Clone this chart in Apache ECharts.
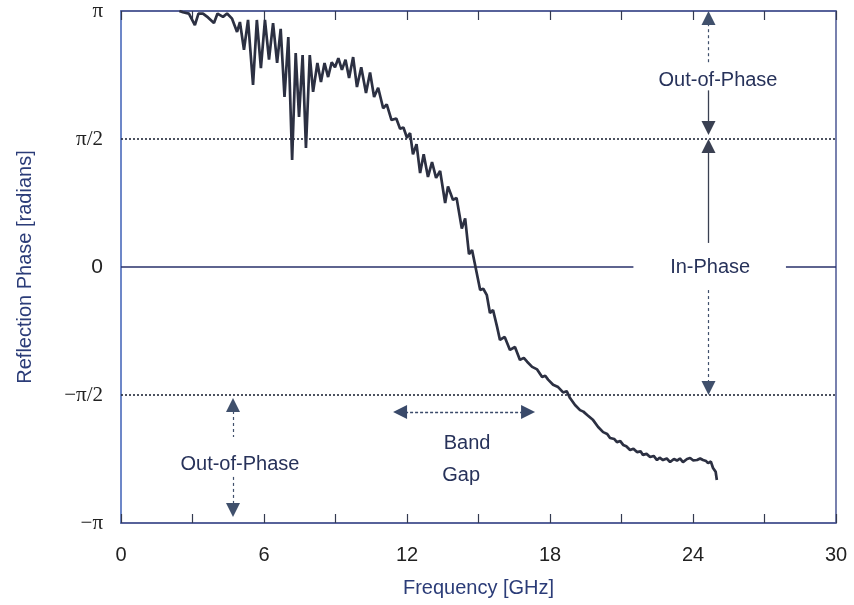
<!DOCTYPE html>
<html>
<head>
<meta charset="utf-8">
<script src="https://cdn.jsdelivr.net/npm/echarts@6/dist/echarts.min.js"></script>
<style>html,body{margin:0;padding:0;background:#fff}#c{width:854px;height:605px}</style>
</head>
<body>
<div id="c"></div>
<script>
// Frequency in GHz
const freqGHz = [
2.45,2.6,2.85,3.1,3.25,3.44,3.65,3.9,4.05,4.28,4.45,4.66,4.87,4.99,5.16,5.33,5.54,5.7,5.87,6.04,
6.21,6.38,6.55,6.70,6.86,7.02,7.18,7.33,7.47,7.62,7.76,7.92,8.06,8.24,8.39,8.54,8.69,8.84,8.98,9.12,
9.27,9.42,9.57,9.74,9.9,10.08,10.28,10.45,10.62,10.79,11.0,11.15,11.35,11.55,11.71,11.85,12.0,12.13,12.25,12.4,
12.55,12.7,12.88,13.05,13.22,13.39,13.6,13.72,13.93,14.08,14.3,14.44,14.6,14.73,14.9,15.07,15.2,15.35,15.48,15.61,
15.78,15.9,16.1,16.32,16.53,16.74,16.9,17.04,17.25,17.46,17.67,17.8,17.92,18.13,18.34,18.55,18.7,18.84,19.05,19.26,
19.4,19.56,19.81,20.02,20.23,20.4,20.52,20.7,20.81,20.95,21.07,21.2,21.36,21.5,21.65,21.8,21.9,22.05,22.2,22.35,
22.49,22.6,22.74,22.9,23.04,23.2,23.33,23.45,23.58,23.75,23.88,24.0,24.17,24.3,24.42,24.55,24.63,24.75,24.84,24.95,25.0
];
// Reflection phase in units of pi (radians / pi)
const phaseOverPi = [
1.0,0.995,0.99,0.945,0.99,0.99,0.975,0.953,0.99,0.977,0.99,0.97,0.918,0.957,0.848,0.965,0.711,0.965,0.777,0.965,
0.81,0.953,0.797,0.93,0.664,0.898,0.418,0.836,0.586,0.828,0.465,0.828,0.684,0.797,0.723,0.797,0.742,0.80,0.78,0.816,
0.77,0.81,0.738,0.82,0.703,0.78,0.68,0.76,0.664,0.70,0.62,0.635,0.574,0.58,0.54,0.545,0.505,0.523,0.44,0.48,
0.367,0.44,0.352,0.41,0.348,0.375,0.25,0.315,0.262,0.27,0.15,0.19,0.05,0.066,-0.012,-0.09,-0.085,-0.11,-0.18,-0.168,
-0.234,-0.285,-0.273,-0.324,-0.3125,-0.363,-0.355,-0.37,-0.39,-0.40,-0.43,-0.425,-0.44,-0.46,-0.469,-0.49,-0.485,-0.512,-0.539,-0.559,
-0.565,-0.578,-0.598,-0.625,-0.645,-0.652,-0.668,-0.672,-0.684,-0.68,-0.695,-0.70,-0.715,-0.71,-0.723,-0.72,-0.734,-0.73,-0.742,-0.738,
-0.754,-0.745,-0.754,-0.748,-0.762,-0.75,-0.756,-0.748,-0.762,-0.75,-0.746,-0.755,-0.754,-0.748,-0.754,-0.758,-0.766,-0.76,-0.785,-0.80,-0.832
];
// Tick labels
const xTicks = [0, 6, 12, 18, 24, 30];
const yTickValues = [-1, -0.5, 0, 0.5, 1];
const yTickLabels = ['\u2212\u03c0', '\u2212\u03c0/2', '0', '\u03c0/2', '\u03c0'];
// Annotation texts
const annoTexts = ['Out-of-Phase', 'In-Phase', 'Out-of-Phase', 'Band', 'Gap'];

const chart = echarts.init(document.getElementById('c'), null, {renderer: 'canvas'});
const data = freqGHz.map((f, i) => [f, phaseOverPi[i]]);
const frameColor = '#4c5894';
const textColor = '#27325a';
const arrowColor = '#3a4052';

function seg(a, b, sa, sb, style) {
  return [
    {coord: a, symbol: sa},
    {coord: b, symbol: sb, lineStyle: style}
  ];
}
const arrowStyle = {color: arrowColor, width: 1.3, type: 'solid'};
const arrowDash = {color: '#40506c', width: 1.2, type: [3, 3]};

const xAxisCommon = {
  type: 'value', min: 0, max: 30, interval: 6,
  axisLine: {show: true, onZero: false, lineStyle: {color: frameColor, width: 1.5}},
  axisTick: {show: true, inside: true, length: 9, lineStyle: {color: '#333a50', width: 1.2}},
  minorTick: {show: true, splitNumber: 2, length: 9, lineStyle: {color: '#333a50', width: 1.2}},
  splitLine: {show: false}
};

chart.setOption({
  animation: false,
  backgroundColor: '#ffffff',
  grid: {left: 121, right: 18, top: 11, bottom: 82, show: true, borderColor: frameColor, borderWidth: 1.5},
  xAxis: [
    Object.assign({}, xAxisCommon, {
      position: 'bottom',
      name: 'Frequency [GHz]', nameLocation: 'middle', nameGap: 55,
      nameTextStyle: {color: '#2b3c78', fontSize: 20, fontFamily: 'Liberation Sans'},
      axisLabel: {show: true, margin: 22, color: '#222', fontSize: 20, fontFamily: 'Liberation Sans',
        formatter: v => xTicks.indexOf(v) >= 0 ? String(v) : ''}
    }),
    Object.assign({}, xAxisCommon, {position: 'top', axisLabel: {show: false}})
  ],
  yAxis: {
    type: 'value', min: -1, max: 1, interval: 0.5,
    name: 'Reflection Phase [radians]', nameLocation: 'middle', nameGap: 86,
    nameTextStyle: {color: '#2b3c78', fontSize: 20, fontFamily: 'Liberation Sans'},
    axisLine: {show: true, onZero: false, lineStyle: {color: '#6a8ad0', width: 1.5}},
    axisTick: {show: false},
    splitLine: {show: false},
    axisLabel: {
      margin: 18, color: '#222', fontSize: 20,
      formatter: v => {
        const i = yTickValues.findIndex(t => Math.abs(t - v) < 1e-9);
        if (i < 0) return '';
        return v === 0 ? '{s|0}' : '{p|' + yTickLabels[i] + '}';
      },
      rich: {
        s: {fontFamily: 'Liberation Sans', fontSize: 21, color: '#222'},
        p: {fontFamily: 'Liberation Serif', fontSize: 21, color: '#222'}
      }
    }
  },
  series: [{
    type: 'line',
    data: data,
    showSymbol: false,
    symbol: 'none',
    lineStyle: {color: '#2c3042', width: 2.7},
    z: 5,
    markLine: {
      silent: true,
      symbol: 'none',
      symbolSize: 14,
      label: {show: false},
      lineStyle: {color: '#222', width: 1.5, type: 'dotted'},
      data: [
        seg([0, 0.5], [30, 0.5], 'none', 'none', {color: '#22283a', width: 1.6, type: [2, 2]}),
        seg([0, -0.5], [30, -0.5], 'none', 'none', {color: '#22283a', width: 1.6, type: [2, 2]}),
        seg([0, 0], [21.5, 0], 'none', 'none', {color: '#28306a', width: 1.6, type: 'solid'}),
        seg([27.9, 0], [30, 0], 'none', 'none', {color: '#28306a', width: 1.6, type: 'solid'}),
        // top-right out-of-phase arrows
        seg([24.65, 0.80], [24.65, 0.973], 'none', 'triangle', arrowDash),
        seg([24.65, 0.69], [24.65, 0.543], 'none', 'triangle', arrowStyle),
        seg([24.65, 0.473], [24.65, 0.094], 'triangle', 'none', arrowStyle),
        seg([24.65, -0.09], [24.65, -0.473], 'none', 'triangle', arrowDash),
        // bottom-left out-of-phase arrows
        seg([4.7, -0.539], [4.7, -0.664], 'triangle', 'none', arrowDash),
        seg([4.7, -0.82], [4.7, -0.949], 'none', 'triangle', arrowDash),
        // band gap arrow
        seg([11.71, -0.566], [17.08, -0.566], 'triangle', 'triangle', {color: '#3a4a6a', width: 1.4, type: [3, 2]})
      ]
    }
  }]
});

// Text annotations placed in data coordinates
const annoPos = [[25.05, 0.73], [24.72, 0.0], [4.99, -0.773], [14.52, -0.6875], [14.27, -0.8125]];
const graphics = annoTexts.map((t, i) => {
  const p = chart.convertToPixel({gridIndex: 0}, annoPos[i]);
  return {
    type: 'text', x: p[0], y: p[1], z: 10,
    style: {text: t, fill: textColor, fontSize: 20, fontFamily: 'Liberation Sans', align: 'center', verticalAlign: 'middle'}
  };
});
chart.setOption({graphic: graphics});
</script>
</body>
</html>
